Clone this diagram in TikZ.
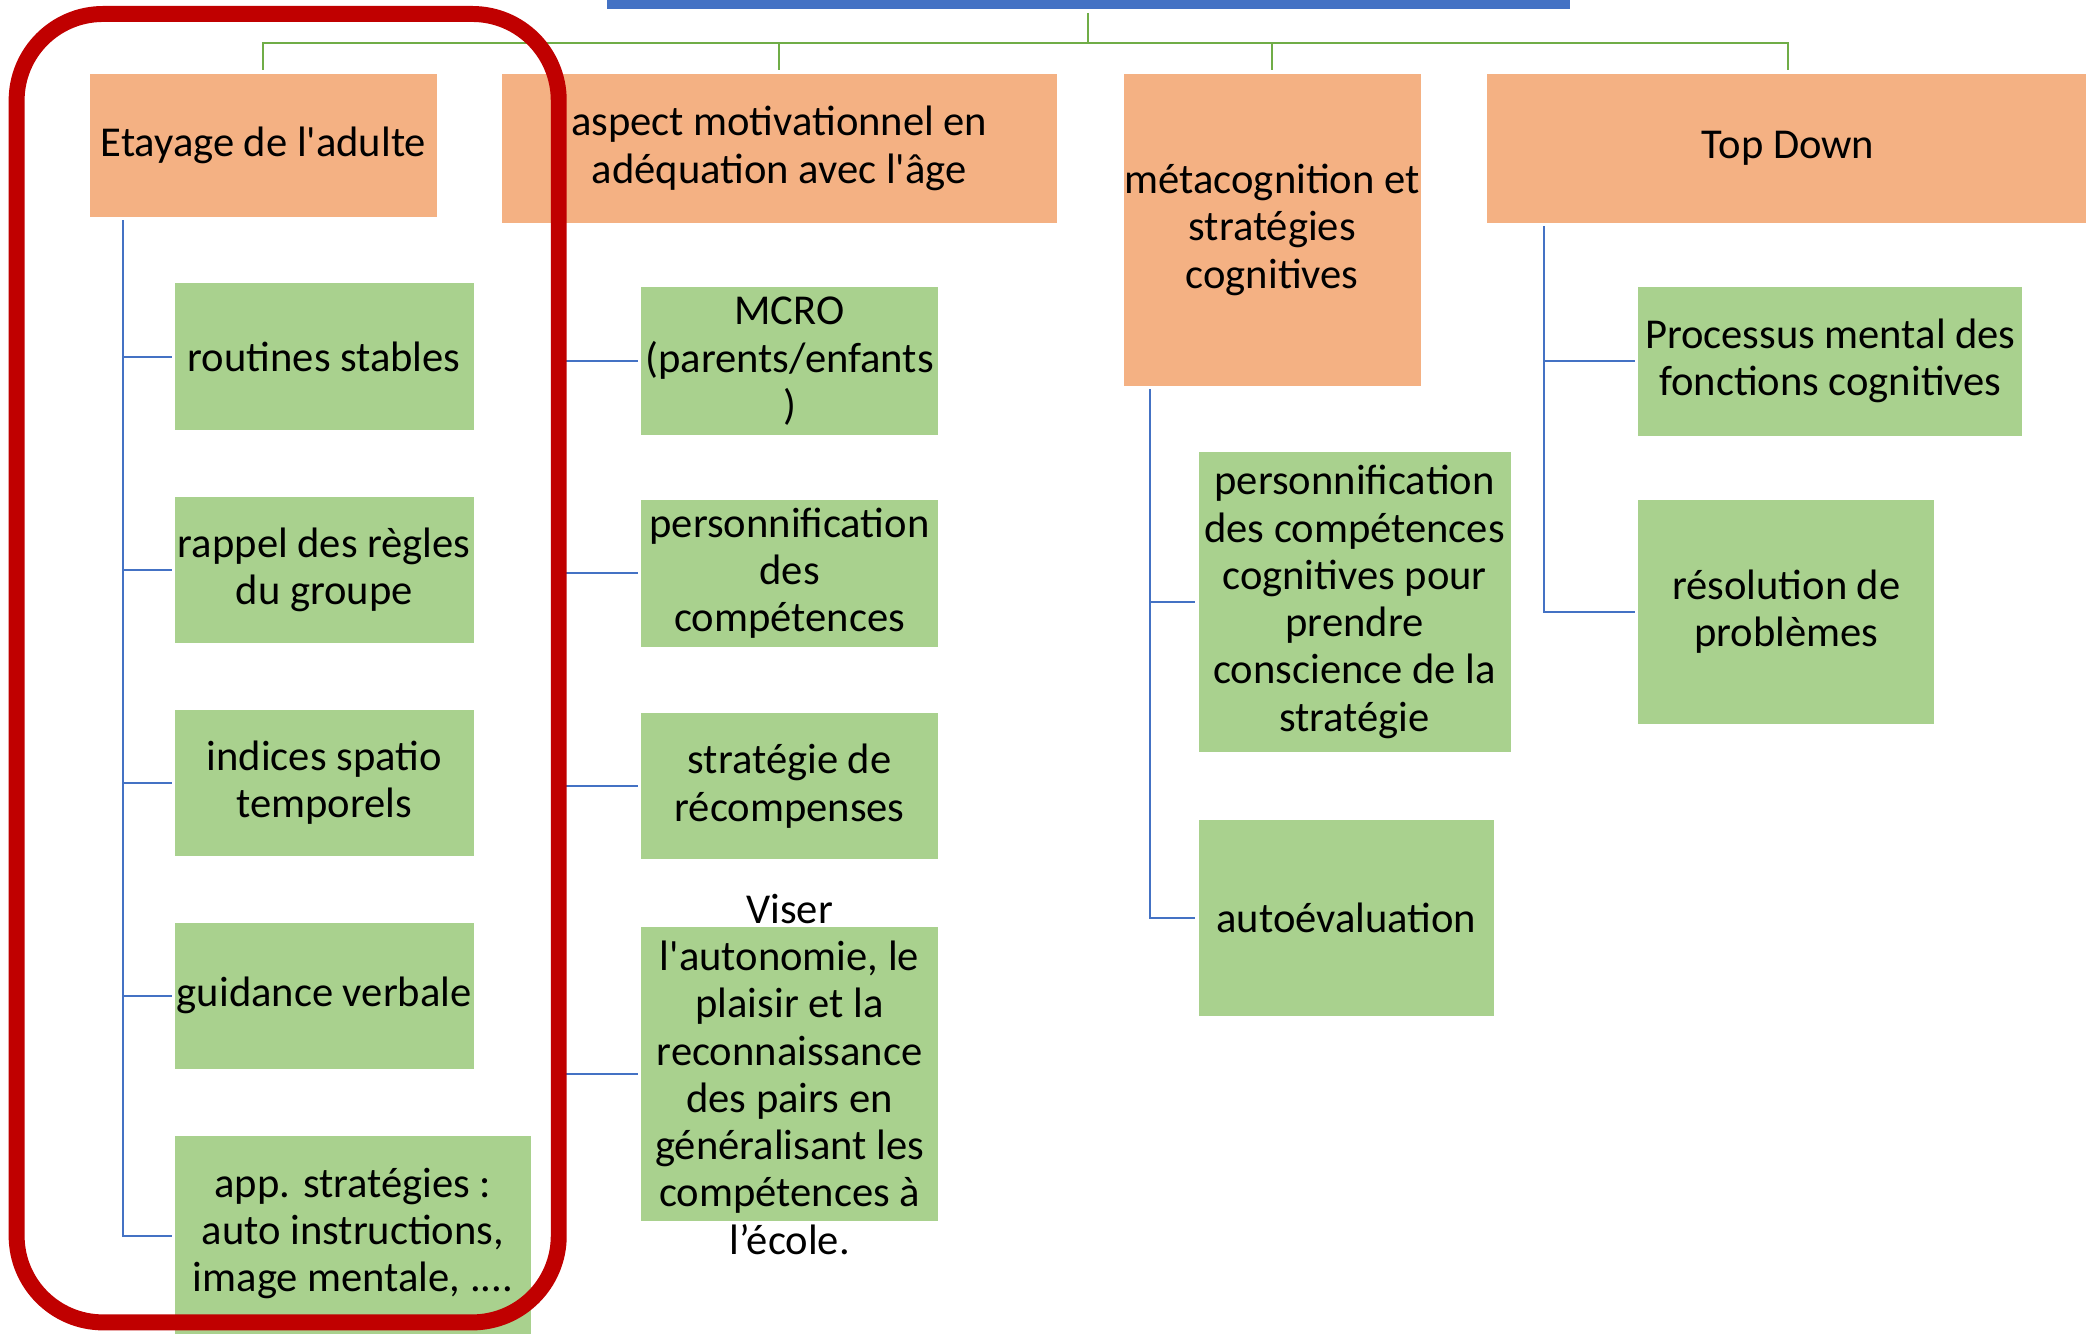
\documentclass[tikz,border=0pt]{standalone}
\usepackage{fontspec}
\newfontfamily\cf{Carlito}
\usetikzlibrary{calc}
\definecolor{orng}{HTML}{F4B183}
\definecolor{grn}{HTML}{A9D18E}
\definecolor{blu}{HTML}{4472C4}
\definecolor{grnl}{HTML}{70AD47}
\definecolor{redc}{HTML}{C00000}
\begin{document}
\begin{tikzpicture}[x=1pt,y=-1pt,
  obox/.style={fill=orng, draw=none, inner sep=0pt, minimum width=#1},
  gbox/.style={fill=grn, draw=none, inner sep=0pt, minimum width=#1},
  txt/.style={align=center, inner sep=0pt, text=black, font=\cf\fontsize{32}{35.5}\selectfont},
  bl/.style={draw=blu, line width=1.5pt},
  gl/.style={draw=grnl, line width=1.6pt},
  redframe/.style={draw=redc, line width=12pt, rounded corners=65pt}
]
\useasboundingbox[fill=white] (0,0) rectangle (1568,1002);

% top bar
\node[fill=blu, inner sep=0pt, minimum width=724, minimum height=12] (bar) at (818,1) {};
\coordinate (hub) at (818,32);

% level-1 boxes
\node[obox=261, minimum height=107.3] (etay) at (198,109.2) {};
\node[txt] at (etay) {Etayage de l'adulte};
\node[obox=417.4, minimum height=111.8] (asp) at (585.7,111.5) {};
\node[txt] at (asp) {aspect motivationnel en\\adéquation avec l'âge};
\node[obox=223.3, minimum height=234.4] (meta) at (956.2,172.8) {};
\node[txt] at (meta) {métacognition et\\stratégies\\cognitives};
\node[obox=452, minimum height=111.8] (top) at (1344,111.5) {};
\node[txt] at (top) {Top Down};

% column 1
\node[gbox=224.5, minimum height=110] (a1) at (243.7,268) {};
\node[txt] at (a1) {routines stables};
\node[gbox=224.5, minimum height=110] (a2) at (243.7,428.5) {};
\node[txt] at (a2) {rappel des règles\\du groupe};
\node[gbox=224.5, minimum height=110] (a3) at (243.7,588.5) {};
\node[txt] at (a3) {indices spatio\\temporels};
\node[gbox=224.5, minimum height=110] (a4) at (243.7,748.5) {};
\node[txt] at (a4) {guidance verbale};
\node[gbox=267.5, minimum height=150] (a5) at (265.3,929) {};
\node[txt] at (265.3,927) {app. stratégies :\\auto instructions,\\image mentale, ....};

% column 2
\node[gbox=223, minimum height=111] (b1) at (593.5,271.5) {};
\node[txt] at (b1) {MCRO\\(parents/enfants\\)};
\node[gbox=223, minimum height=110] (b2) at (593.5,431) {};
\node[txt] at (b2) {personnification\\des\\compétences};
\node[gbox=223, minimum height=110] (b3) at (593.5,591) {};
\node[txt] at (b3) {stratégie de\\récompenses};
\node[gbox=223, minimum height=221] (b4) at (593.5,807.5) {};
\node[txt] at (b4) {Viser\\l'autonomie, le\\plaisir et la\\reconnaissance\\des pairs en\\généralisant les\\compétences à\\l’école.};

% column 3
\node[gbox=234.5, minimum height=225] (c1) at (1018.2,452.5) {};
\node[txt] at (c1) {personnification\\des compétences\\cognitives pour\\prendre\\conscience de la\\stratégie};
\node[gbox=222, minimum height=148] (c2) at (1012,690) {};
\node[txt] at (c2) {autoévaluation};

% column 4
\node[gbox=288.4, minimum height=112] (d1) at (1375.8,271.5) {};
\node[txt] at (d1) {Processus mental des\\fonctions cognitives};
\node[gbox=222.4, minimum height=168] (d2) at (1342.8,460) {};
\node[txt] at (d2) {résolution de\\problèmes};

% green connectors
\draw[gl] ([yshift=-2.5pt]bar.south) -- (hub);
\draw[gl] (hub) -| ([yshift=2.5pt]etay.north);
\draw[gl] (hub) -| ([yshift=2.5pt]asp.north);
\draw[gl] (hub) -| ([yshift=2.5pt]meta.north);
\draw[gl] (hub) -| ([yshift=2.5pt]top.north);

% blue connectors
\foreach \n in {a1,a2,a3,a4,a5}
  \draw[bl] ([xshift=25pt,yshift=-2.5pt]etay.south west) |- ([xshift=-2pt]\n.west);
\foreach \n in {b1,b2,b3,b4}
  \draw[bl] ([xshift=43pt,yshift=-2.5pt]asp.south west) |- ([xshift=-2pt]\n.west);
\foreach \n in {c1,c2}
  \draw[bl] ([xshift=20.4pt,yshift=-2.5pt]meta.south west) |- ([xshift=-2.5pt]\n.west);
\foreach \n in {d1,d2}
  \draw[bl] ([xshift=43pt,yshift=-2.5pt]top.south west) |- ([xshift=-2.5pt]\n.west);

% red frame
\draw[redframe] (12.5,10.5) rectangle (420,994);
\end{tikzpicture}
\end{document}
